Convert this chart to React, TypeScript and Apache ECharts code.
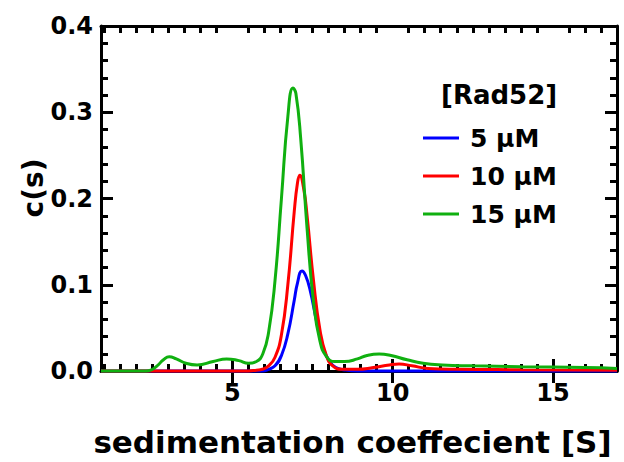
import React, { useEffect, useRef } from "react";
import * as echarts from "echarts";

// ---- data ----
const seriesNames = ["5 µM", "10 µM", "15 µM"];
const seriesColors = ["#0000ff", "#ff0000", "#10b010"];
const legendTitle = "[Rad52]";
const xTitle = "sedimentation coeffecient [S]";
const yTitle = "c(s)";

const xMajorTicks = [5, 10, 15];
const yTickLabels = ["0.0", "0.1", "0.2", "0.3", "0.4"];

const blueS = [0.9, 5.93, 6.13, 6.33, 6.53, 6.73, 6.93, 7.03, 7.17, 7.28, 7.43, 7.63, 7.83, 8.03, 8.23, 8.53, 8.9, 12, 17];
const blueC = [0, 0, 0.002, 0.006, 0.018, 0.043, 0.082, 0.102, 0.116, 0.111, 0.093, 0.057, 0.027, 0.011, 0.004, 0.001, 0, 0, 0];

const redS = [0.9, 5.5, 5.75, 5.93, 6.13, 6.33, 6.53, 6.73, 6.93, 7.03, 7.1, 7.23, 7.33, 7.53, 7.73, 7.93, 8.13, 8.43, 8.9, 9.4, 9.9, 10.2, 10.6, 11.1, 12, 14, 17];
const redC = [0, 0, 0.001, 0.002, 0.006, 0.016, 0.042, 0.1, 0.185, 0.218, 0.227, 0.21, 0.18, 0.105, 0.048, 0.018, 0.006, 0.002, 0.002, 0.004, 0.007, 0.008, 0.006, 0.003, 0.002, 0.0015, 0.001];

const greenS = [0.9, 2.3, 2.45, 2.65, 2.85, 3.03, 3.25, 3.55, 3.9, 4.4, 4.82, 5.2, 5.5, 5.75, 5.95, 6.13, 6.33, 6.53, 6.73, 6.89, 6.98, 7.13, 7.33, 7.53, 7.73, 7.93, 8.2, 8.5, 8.9, 9.2, 9.58, 9.95, 10.45, 10.95, 11.55, 12.5, 14, 16, 17];
const greenC = [0, 0, 0.001, 0.006, 0.013, 0.0165, 0.014, 0.009, 0.007, 0.011, 0.014, 0.012, 0.009, 0.011, 0.02, 0.045, 0.105, 0.2, 0.295, 0.328, 0.322, 0.27, 0.165, 0.08, 0.035, 0.017, 0.011, 0.011, 0.014, 0.018, 0.0197, 0.018, 0.013, 0.009, 0.007, 0.006, 0.005, 0.004, 0.003];

const xMin = 0.9;
const xMax = 17;

const FONT = "DejaVu Sans";

export default function App() {
  const ref = useRef<HTMLDivElement>(null);

  useEffect(() => {
    if (!ref.current) return;
    const chart = echarts.init(ref.current, undefined, { renderer: "svg" });

    const xMinorTicks: number[] = [];
    for (let v = 1; v <= 16.5; v += 0.5) {
      if (!xMajorTicks.includes(v)) xMinorTicks.push(v);
    }

    const labelStyle = { color: "#000", fontFamily: FONT, fontWeight: "bold" as const, fontSize: 24 };

    // ticks point into the plot: negative length
    const makeX = (position: "top" | "bottom", major: boolean, showLabel: boolean) => ({
      type: "value",
      position,
      min: xMin,
      max: xMax,
      axisLine: major
        ? { show: false }
        : { show: true, onZero: false, lineStyle: { color: "#000", width: 3 } },
      axisTick: {
        show: true,
        inside: false,
        length: major ? -12 : -7,
        customValues: major ? xMajorTicks : xMinorTicks,
        lineStyle: { color: "#000", width: 3 },
      },
      axisLabel: showLabel
        ? { show: true, customValues: xMajorTicks, margin: 10, ...labelStyle }
        : { show: false },
      splitLine: { show: false },
    });

    const makeY = (position: "left" | "right", showLabel: boolean) => ({
      type: "value",
      position,
      min: 0,
      max: 0.4,
      interval: 0.1,
      axisLine: { show: true, onZero: false, lineStyle: { color: "#000", width: 3 } },
      axisTick: {
        show: true,
        inside: false,
        length: -12,
        lineStyle: { color: "#000", width: 3 },
      },
      minorTick: {
        show: true,
        splitNumber: 5,
        length: -7,
        lineStyle: { color: "#000", width: 3 },
      },
      axisLabel: showLabel
        ? {
            show: true,
            margin: 8,
            formatter: (v: number) => yTickLabels[Math.round(v * 10)] ?? v.toFixed(1),
            ...labelStyle,
          }
        : { show: false },
      splitLine: { show: false },
      minorSplitLine: { show: false },
    });

    const sData = [blueS, redS, greenS];
    const cData = [blueC, redC, greenC];

    chart.setOption({
      animation: false,
      backgroundColor: "#ffffff",
      grid: {
        left: 101,
        right: 7,
        top: 26,
        bottom: 91,
        containLabel: false,
        outerBoundsMode: "none",
      },
      xAxis: [
        {
          ...makeX("bottom", false, true),
          name: xTitle,
          nameLocation: "middle",
          nameGap: 55,
          nameTextStyle: {
            color: "#000",
            fontFamily: FONT,
            fontWeight: "bold",
            fontSize: 31,
            padding: [0, 13, 0, 0],
          },
        },
        makeX("bottom", true, false),
        makeX("top", false, false),
        makeX("top", true, false),
      ],
      yAxis: [makeY("left", true), makeY("right", false)],
      legend: {
        show: true,
        orient: "vertical",
        left: 423,
        top: 119,
        padding: 0,
        icon: "rect",
        itemWidth: 36,
        itemHeight: 3,
        itemGap: 0,
        data: seriesNames,
        textStyle: {
          color: "#000",
          fontFamily: FONT,
          fontWeight: "bold",
          fontSize: 25,
          lineHeight: 38,
          padding: [0, 0, 0, 6],
        },
      },
      graphic: [
        {
          type: "text",
          left: 441,
          top: 82,
          style: { text: legendTitle, fill: "#000", font: `bold 26px "${FONT}"` },
        },
        {
          type: "text",
          x: 33,
          y: 188,
          rotation: Math.PI / 2,
          style: {
            text: yTitle,
            fill: "#000",
            font: `bold 28px "${FONT}"`,
            align: "center",
            verticalAlign: "middle",
          },
        },
      ],
      series: seriesNames.map((name, i) => ({
        name,
        type: "line",
        xAxisIndex: 0,
        yAxisIndex: 0,
        data: sData[i].map((s, j) => [s, cData[i][j]]),
        showSymbol: false,
        symbol: "none",
        smooth: 0.5,
        clip: false,
        z: 3 + i,
        lineStyle: { color: seriesColors[i], width: 3 },
        itemStyle: { color: seriesColors[i] },
      })),
    });

    return () => chart.dispose();
  }, []);

  return (
    <div
      ref={ref}
      style={{ position: "fixed", left: 0, top: 0, width: 624, height: 462, background: "#fff" }}
    />
  );
}
